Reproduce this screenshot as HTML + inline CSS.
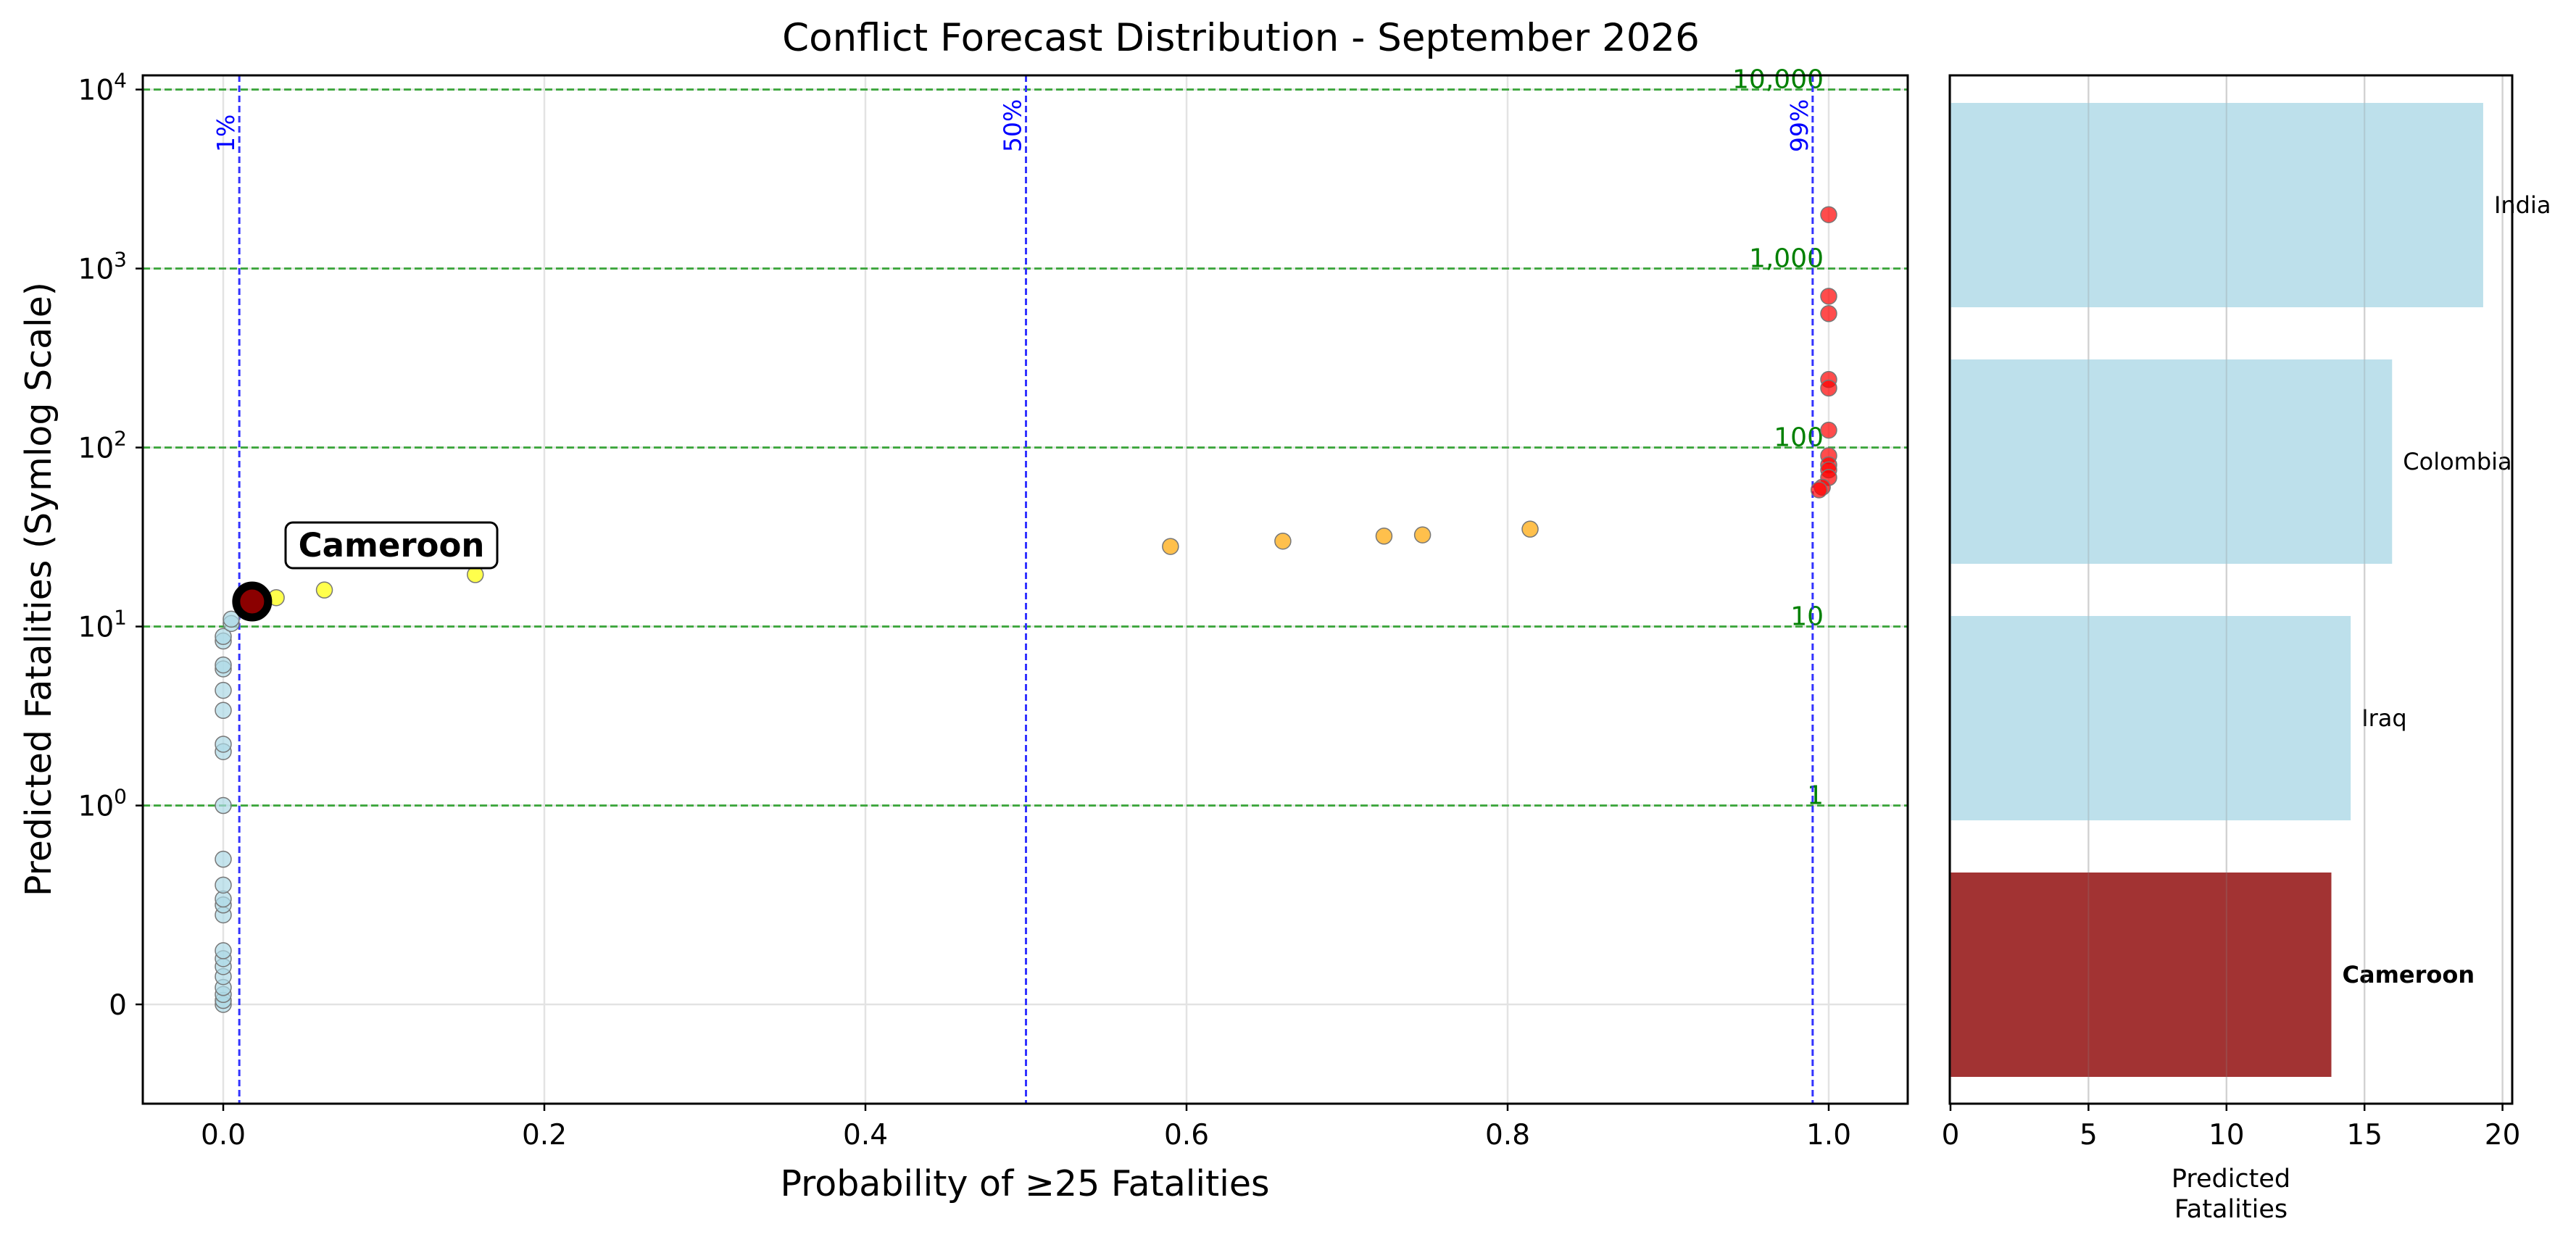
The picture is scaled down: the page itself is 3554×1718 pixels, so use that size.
<!DOCTYPE html>
<html><head><meta charset="utf-8"><style>
body{margin:0;background:#fff}
svg{display:block;font-family:"DejaVu Sans","Liberation Sans",sans-serif}
</style></head><body>
<svg id="c" width="3554" height="1718" viewBox="0 0 3554 1718" xmlns="http://www.w3.org/2000/svg">
<rect width="3554" height="1718" fill="#fff"/>
<text x="1712" y="70" font-size="53" text-anchor="middle">Conflict Forecast Distribution - September 2026</text>
<g id="left"></g>
<g id="right"></g>
</svg>
<script>
const blueY = [0,0.02,0.05,0.085,0.14,0.19,0.23,0.27,0.45,0.5,0.53,0.6,0.73,1.0,2.0,2.2,3.4,4.4,5.8,6.1,8.3,8.8,10.4,11];
const yellowX = [0.033,0.063,0.157];
const yellowY = [14.5,16,19.5];
const orangeX = [0.59,0.66,0.723,0.747,0.814];
const orangeY = [28,30,32,32.5,35];
const redX = [1.0,1.0,1.0,1.0,1.0,1.0,1.0,1.0,1.0,1.0,0.996,0.994];
const redY = [2000,700,560,240,215,125,90,80,75,68,60,58];
const focusX = 0.018, focusY = 13.8;
const xTicks = [0,0.2,0.4,0.6,0.8,1.0];
const xTickLabels = ["0.0","0.2","0.4","0.6","0.8","1.0"];
const yTicks = [0,1,10,100,1000,10000];
const yTickExp = ["","0","1","2","3","4"];
const refLines = [1,10,100,1000,10000];
const refLabels = ["1","10","100","1,000","10,000"];
const pctX = [0.01,0.5,0.99];
const pctLabels = ["1%","50%","99%"];
const barNames = ["India","Colombia","Iraq","Cameroon"];
const barVals = [19.3,16.0,14.5,13.8];
const barTicks = [0,5,10,15,20];

const NS="http://www.w3.org/2000/svg";
function el(p,t,a,txt){const e=document.createElementNS(NS,t);for(const k in a)e.setAttribute(k,a[k]);if(txt!==undefined)e.textContent=txt;p.appendChild(e);return e;}
const L={l:197,r:2632,t:104,b:1523};
const sx=v=>308+(v)*2215;
const tr=v=>v<=1?v*1.1111:1.1111+Math.log10(v);
const sy=v=>1386-247*tr(v);
const left=document.getElementById('left');
xTicks.forEach(v=>{const g=el(left,'line',{x1:sx(v),x2:sx(v),y1:L.t,y2:L.b,stroke:'#e3e3e3','stroke-width':2.5});

});
yTicks.forEach(v=>{const g=el(left,'line',{x1:L.l,x2:L.r,y1:sy(v),y2:sy(v),stroke:'#e3e3e3','stroke-width':2.5});

});
refLines.forEach((v,i)=>{const y=sy(v);
const ln=el(left,'line',{x1:L.l,x2:L.r,y1:y,y2:y,stroke:'#2ca02c','stroke-width':2.8,'stroke-dasharray':'10,5',opacity:0.9});


const t=el(left,'text',{x:2516,y:y-2,'font-size':36,fill:'#008000','text-anchor':'end'},refLabels[i]);

});
pctX.forEach((v,i)=>{const x=sx(v);
const ln=el(left,'line',{x1:x,x2:x,y1:L.t,y2:L.b,stroke:'#3333ff','stroke-width':3,'stroke-dasharray':'9,5'});


const t=el(left,'text',{transform:`translate(${x-7},210) rotate(-90)`,'font-size':33,fill:'#0000ff','text-anchor':'start'},pctLabels[i]);

});
function pt(x,y,fill,r,name){const c=el(left,'circle',{cx:sx(x),cy:sy(y),r:r||11,fill:fill,'fill-opacity':0.7,stroke:'#777','stroke-width':1.5});

}
blueY.forEach((v,i)=>pt(i>21?0.005:0,v,'#add8e6',11,'low-risk-point'));
yellowX.forEach((x,i)=>pt(x,yellowY[i],'#ffff00',11,'medium-risk-point'));
orangeX.forEach((x,i)=>pt(x,orangeY[i],'#ffa500',11,'high-risk-point'));
redX.forEach((x,i)=>pt(x,redY[i],'#ff0000',11,'extreme-risk-point'));
const fc=el(left,'circle',{cx:sx(focusX),cy:sy(focusY),r:22,fill:'#8b0000',stroke:'#000','stroke-width':11});


const ab=el(left,'rect',{x:394,y:721,width:292,height:63,rx:10,fill:'#fff',stroke:'#000','stroke-width':3});


const at=el(left,'text',{x:540,y:768,'font-size':45,'font-weight':'bold','text-anchor':'middle'},'Cameroon');


const fr=el(left,'rect',{x:L.l,y:L.t,width:L.r-L.l,height:L.b-L.t,fill:'none',stroke:'#000','stroke-width':3});


xTicks.forEach((v,i)=>{el(left,'line',{x1:sx(v),x2:sx(v),y1:L.b,y2:L.b+10,stroke:'#000','stroke-width':2.5});
const t=el(left,'text',{x:sx(v),y:L.b+56,'font-size':39,'text-anchor':'middle'},xTickLabels[i]);

});
yTicks.forEach((v,i)=>{const y=sy(v);el(left,'line',{x1:L.l-10,x2:L.l,y1:y,y2:y,stroke:'#000','stroke-width':2.5});
let t;
if(i===0){t=el(left,'text',{x:L.l-22,y:y+14,'font-size':39,'text-anchor':'end'},'0');}
else{t=el(left,'text',{x:L.l-22,y:y+14,'font-size':39,'text-anchor':'end'});
el(t,'tspan',{},'10');el(t,'tspan',{dy:-17,'font-size':28},yTickExp[i]);}

});
const xl=el(left,'text',{x:1414,y:1650,'font-size':49,'text-anchor':'middle'},'Probability of ≥25 Fatalities');


const yl=el(left,'text',{transform:'translate(70,813) rotate(-90)','font-size':49,'text-anchor':'middle'},'Predicted Fatalities (Symlog Scale)');



const R={l:2690,r:3466,t:104,b:1523};
const bx=v=>2691+v*38.08;
const right=document.getElementById('right');
barTicks.forEach(v=>{const g=el(right,'line',{x1:bx(v),x2:bx(v),y1:R.t,y2:R.b,stroke:'#e3e3e3','stroke-width':2.5});

});
const bh=282, step=354, top0=142;
barNames.forEach((n,i)=>{const y=top0+i*step;const hl=n==='Cameroon';
const r=el(right,'rect',{x:bx(0),y:y,width:bx(barVals[i])-bx(0),height:bh,fill:hl?'#8b0000':'#add8e6','fill-opacity':0.8});


const t=el(right,'text',{x:bx(barVals[i])+15,y:y+bh/2+11,'font-size':32,'font-weight':hl?'bold':'normal'},n);

});
barTicks.forEach(v=>{el(right,'line',{x1:bx(v),x2:bx(v),y1:R.t,y2:R.b,stroke:'#999','stroke-width':2,opacity:0.25});});
const rf=el(right,'rect',{x:R.l,y:R.t,width:R.r-R.l,height:R.b-R.t,fill:'none',stroke:'#000','stroke-width':3});


barTicks.forEach(v=>{el(right,'line',{x1:bx(v),x2:bx(v),y1:R.b,y2:R.b+10,stroke:'#000','stroke-width':2.5});
const t=el(right,'text',{x:bx(v),y:R.b+56,'font-size':39,'text-anchor':'middle'},String(v));

});
const b1=el(right,'text',{x:3078,y:1638,'font-size':35,'text-anchor':'middle'},'Predicted');


const b2=el(right,'text',{x:3078,y:1680,'font-size':35,'text-anchor':'middle'},'Fatalities');


</script>
</body></html>
